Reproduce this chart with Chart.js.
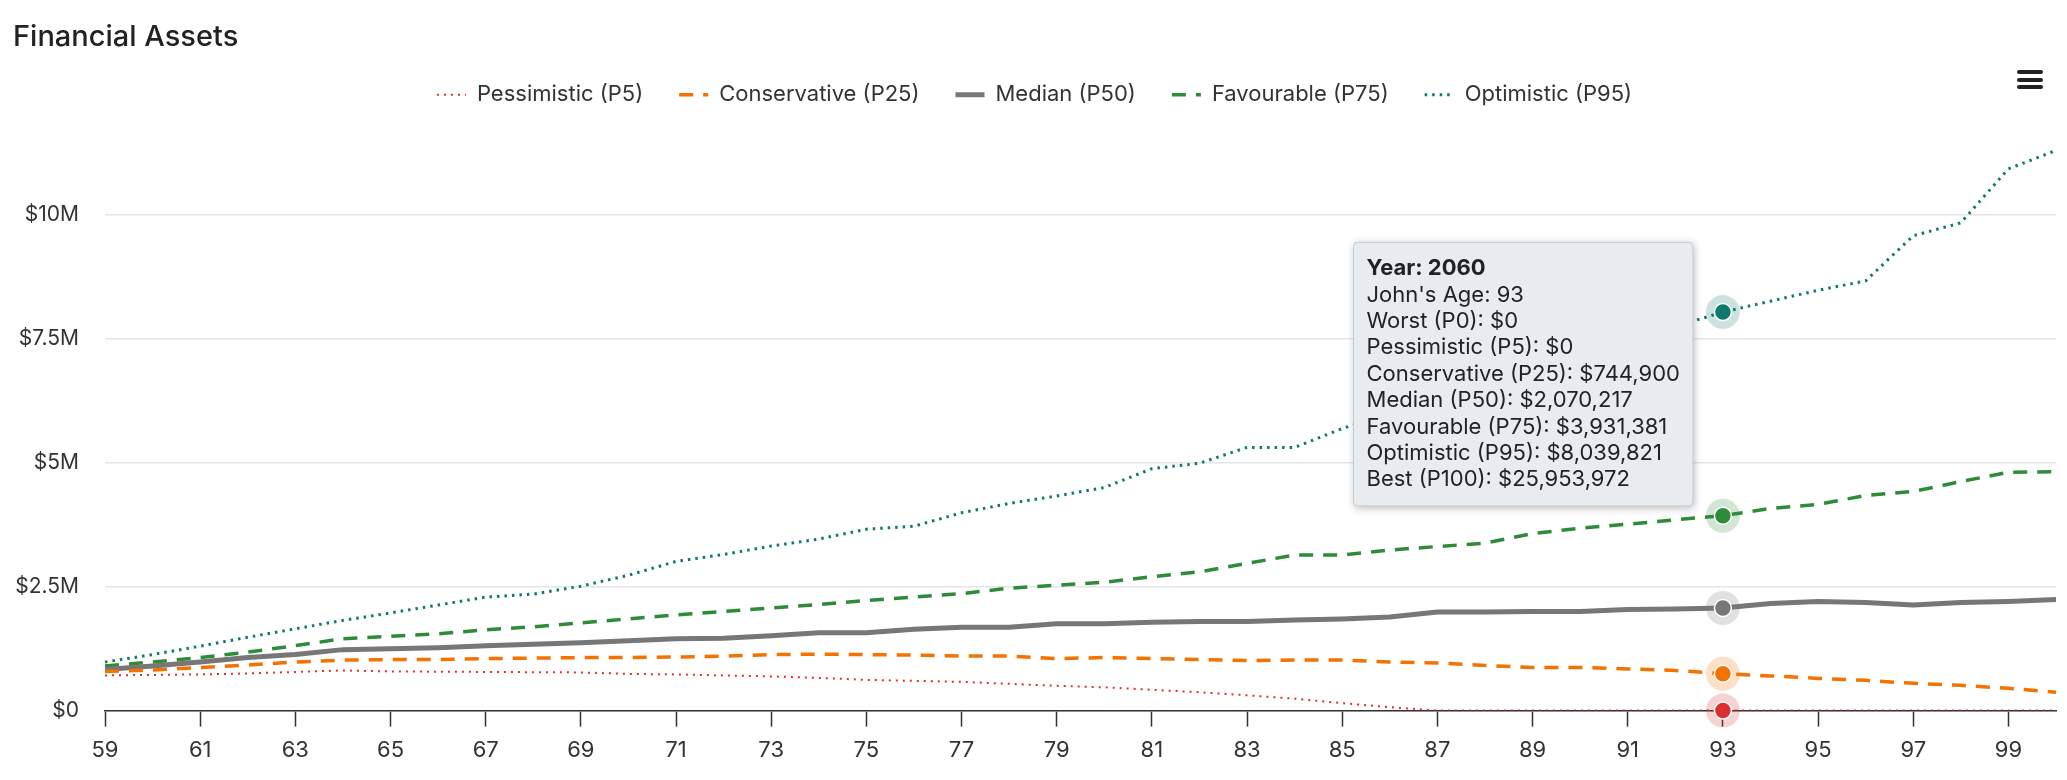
<!DOCTYPE html>
<html>
<head>
<meta charset="utf-8">
<title>Financial Assets</title>
<script src="https://cdn.jsdelivr.net/npm/chart.js@4.4.1/dist/chart.umd.min.js"></script>
<style>
  html, body { margin: 0; padding: 0; background: #fff; }
  #wrap { position: relative; width: 2067px; height: 780px; }
  #menu { position: absolute; left: 2017px; top: 70px; width: 26px; }
  #menu span { display: block; height: 4px; margin-bottom: 3.5px; background: #222; border-radius: 2px; }
</style>
</head>
<body>
<div id="wrap">
  <canvas id="assetsChart"></canvas>
  <div id="menu"><span></span><span></span><span></span></div>
</div>
<script>
// John's age on the x axis
const ages = [59, 60, 61, 62, 63, 64, 65, 66, 67, 68, 69, 70, 71, 72, 73, 74, 75, 76, 77, 78, 79,
  80, 81, 82, 83, 84, 85, 86, 87, 88, 89, 90, 91, 92, 93, 94, 95, 96, 97, 98, 99, 100];
const birthYear = 1967;

// percentile paths, in dollars
const pessimisticP5 = [710000, 720000, 730000, 750000, 780000, 810000, 790000, 785000, 780000, 775000,
  770000, 740000, 730000, 710000, 690000, 660000, 620000, 600000, 580000, 540000, 500000,
  470000, 420000, 370000, 310000, 240000, 150000, 70000, 0, 0, 0, 0, 0, 0, 0, 0, 0, 0, 0, 0, 0, 0];
const conservativeP25 = [790000, 820000, 870000, 920000, 980000, 1020000, 1030000, 1030000, 1050000, 1060000,
  1070000, 1070000, 1080000, 1100000, 1130000, 1140000, 1130000, 1120000, 1100000, 1100000, 1050000,
  1070000, 1050000, 1030000, 1010000, 1020000, 1020000, 980000, 960000, 910000, 870000, 870000,
  840000, 810000, 744900, 700000, 650000, 610000, 550000, 510000, 450000, 370000];
const medianP50 = [830000, 900000, 980000, 1070000, 1130000, 1230000, 1250000, 1270000, 1310000, 1340000,
  1370000, 1410000, 1450000, 1460000, 1510000, 1570000, 1570000, 1640000, 1680000, 1680000, 1750000,
  1750000, 1780000, 1800000, 1800000, 1830000, 1850000, 1890000, 1990000, 1990000, 2000000, 2000000,
  2040000, 2050000, 2070217, 2160000, 2200000, 2180000, 2130000, 2180000, 2200000, 2240000];
const favourableP75 = [900000, 980000, 1070000, 1180000, 1310000, 1450000, 1500000, 1550000, 1630000, 1690000,
  1770000, 1850000, 1930000, 2000000, 2070000, 2140000, 2220000, 2290000, 2360000, 2470000, 2530000,
  2590000, 2700000, 2800000, 2970000, 3140000, 3140000, 3240000, 3310000, 3380000, 3570000, 3680000,
  3760000, 3850000, 3931381, 4080000, 4160000, 4340000, 4420000, 4620000, 4810000, 4820000];
const optimisticP95 = [980000, 1130000, 1300000, 1480000, 1650000, 1820000, 1970000, 2130000, 2290000, 2350000,
  2510000, 2730000, 3010000, 3150000, 3320000, 3460000, 3660000, 3720000, 3990000, 4180000, 4330000,
  4500000, 4880000, 4990000, 5310000, 5310000, 5690000, 6000000, 6300000, 6600000, 6850000, 7100000,
  7400000, 7750000, 8039821, 8260000, 8480000, 8670000, 9580000, 9840000, 10930000, 11300000];

// extra rows only shown in the tooltip (keyed by age)
const worstP0 = { 93: 0 };
const bestP100 = { 93: 25953972 };

const hoverAge = 93;
const yTicks = [0, 2500000, 5000000, 7500000, 10000000];
const yTickLabels = ['$0', '$2.5M', '$5M', '$7.5M', '$10M'];

const FONT = 'Inter, "Noto Sans", sans-serif';
const money = v => '$' + Math.round(v).toLocaleString('en-US');

function hexAlpha(hex, a) {
  const n = parseInt(hex.slice(1), 16);
  return `rgba(${(n >> 16) & 255}, ${(n >> 8) & 255}, ${n & 255}, ${a})`;
}

// halo + marker on hovered points, shadow behind the tooltip
const hoverDecor = {
  id: 'hoverDecor',
  afterDatasetsDraw(chart) {
    const ctx = chart.ctx;
    chart.getActiveElements().forEach(a => {
      const color = chart.data.datasets[a.datasetIndex].borderColor;
      const {x, y} = a.element;
      ctx.save();
      ctx.beginPath();
      ctx.arc(x, y, 17, 0, Math.PI * 2);
      ctx.fillStyle = hexAlpha(color, 0.22);
      ctx.fill();
      ctx.beginPath();
      ctx.arc(x, y, 8.5, 0, Math.PI * 2);
      ctx.fillStyle = color;
      ctx.fill();
      ctx.lineWidth = 1.5;
      ctx.strokeStyle = '#ffffff';
      ctx.stroke();
      ctx.restore();
    });
  },
  beforeTooltipDraw(chart, args) {
    const t = args.tooltip;
    const ctx = chart.ctx;
    ctx.save();
    ctx.shadowColor = 'rgba(0, 0, 0, 0.28)';
    ctx.shadowBlur = 8;
    ctx.shadowOffsetX = 1;
    ctx.shadowOffsetY = 2;
    ctx.fillStyle = '#e9ecef';
    ctx.fillRect(t.x, t.y, t.width, t.height);
    ctx.restore();
  }
};

Chart.Tooltip.positioners.besidePoint = function (elements) {
  if (!elements.length) return false;
  const top = Math.min(...elements.map(e => e.element.y));
  return { x: elements[0].element.x, y: top + 62 };
};

const lineBase = { pointRadius: 0, pointHoverRadius: 0, tension: 0, fill: false, borderCapStyle: 'butt' };

const ctx = document.getElementById('assetsChart').getContext('2d');
const assetsChart = new Chart(ctx, {
  type: 'line',
  data: {
    labels: ages,
    datasets: [
      { ...lineBase, label: 'Pessimistic (P5)', data: pessimisticP5,
        borderColor: '#dc3030', borderWidth: 2, borderDash: [2, 5] },
      { ...lineBase, label: 'Conservative (P25)', data: conservativeP25,
        borderColor: '#f47200', borderWidth: 3.5, borderDash: [14, 10] },
      { ...lineBase, label: 'Median (P50)', data: medianP50,
        borderColor: '#777777', borderWidth: 5 },
      { ...lineBase, label: 'Favourable (P75)', data: favourableP75,
        borderColor: '#2e8b3a', borderWidth: 3.5, borderDash: [14, 10] },
      { ...lineBase, label: 'Optimistic (P95)', data: optimisticP95,
        borderColor: '#10796b', borderWidth: 3, borderDash: [2.5, 5] }
    ]
  },
  options: {
    responsive: true,
    maintainAspectRatio: false,
    animation: false,
    events: [],
    layout: { padding: { left: 13, right: 11, top: 0, bottom: 5 } },
    interaction: { mode: 'index', intersect: false },
    plugins: {
      title: {
        display: true,
        text: 'Financial Assets',
        align: 'start',
        color: '#222222',
        font: { family: FONT, size: 29, weight: '500' },
        padding: { top: 20, bottom: -7 }
      },
      legend: {
        display: true,
        labels: {
          usePointStyle: true,
          pointStyle: 'line',
          pointStyleWidth: 29,
          padding: 36,
          color: '#333333',
          font: { family: FONT, size: 22 },
          // legend symbol = the series' own stroke (width, dash)
          generateLabels: chart => chart.data.datasets.map((ds, i) => ({
            text: ds.label,
            datasetIndex: i,
            fillStyle: ds.borderColor,
            strokeStyle: ds.borderColor,
            fontColor: '#333333',
            lineWidth: ds.borderWidth,
            lineDash: ds.borderDash || [],
            lineCap: 'butt',
            pointStyle: 'line',
            hidden: false
          }))
        }
      },
      tooltip: {
        position: 'besidePoint',
        xAlign: 'right',
        yAlign: 'center',
        caretSize: 0,
        caretPadding: 30,
        backgroundColor: '#e9ecef',
        borderColor: '#c6cbd0',
        borderWidth: 1,
        cornerRadius: 4,
        displayColors: false,
        padding: 13,
        titleColor: '#222222',
        bodyColor: '#222222',
        titleFont: { family: FONT, size: 22, weight: 'bold', lineHeight: 1.2 },
        bodyFont: { family: FONT, size: 22, lineHeight: 1.2 },
        titleMarginBottom: 0,
        bodySpacing: 0,
        callbacks: {
          title: items => 'Year: ' + (ages[items[0].dataIndex] + birthYear),
          beforeBody: items => {
            const age = ages[items[0].dataIndex];
            return ["John's Age: " + age, 'Worst (P0): ' + money(worstP0[age] ?? 0)];
          },
          label: item => item.dataset.label + ': ' + money(item.raw),
          afterBody: items => {
            const age = ages[items[0].dataIndex];
            return ['Best (P100): ' + money(bestP100[age] ?? 0)];
          }
        }
      }
    },
    scales: {
      x: {
        type: 'category',
        offset: false,
        afterBuildTicks: axis => { axis.ticks = axis.ticks.filter(t => (ages[t.value] - ages[0]) % 2 === 0); },
        grid: { display: true, drawOnChartArea: false, drawTicks: true, tickLength: 16,
          tickColor: '#333333', tickWidth: 1.5 },
        border: { display: true, color: '#333333', width: 1.5 },
        ticks: { autoSkip: false, maxRotation: 0, padding: 11, color: '#333333',
          font: { family: FONT, size: 22 } }
      },
      y: {
        min: 0,
        max: 12000000,
        afterBuildTicks: axis => { axis.ticks = yTicks.map(v => ({ value: v })); },
        afterFit: axis => { axis.width = 92; },
        grid: { color: '#e3e5e9', lineWidth: 1.5, drawTicks: false },
        border: { display: false },
        ticks: {
          padding: 26,
          color: '#333333',
          font: { family: FONT, size: 21 },
          callback: v => yTickLabels[yTicks.indexOf(v)]
        }
      }
    }
  },
  plugins: [hoverDecor]
});

// show the hover state at age 93 like the reference
const hoverIndex = ages.indexOf(hoverAge);
const active = assetsChart.data.datasets.map((d, i) => ({ datasetIndex: i, index: hoverIndex }));
assetsChart.setActiveElements(active);
assetsChart.tooltip.setActiveElements(active, { x: 0, y: 0 });
assetsChart.update();
</script>
</body>
</html>
